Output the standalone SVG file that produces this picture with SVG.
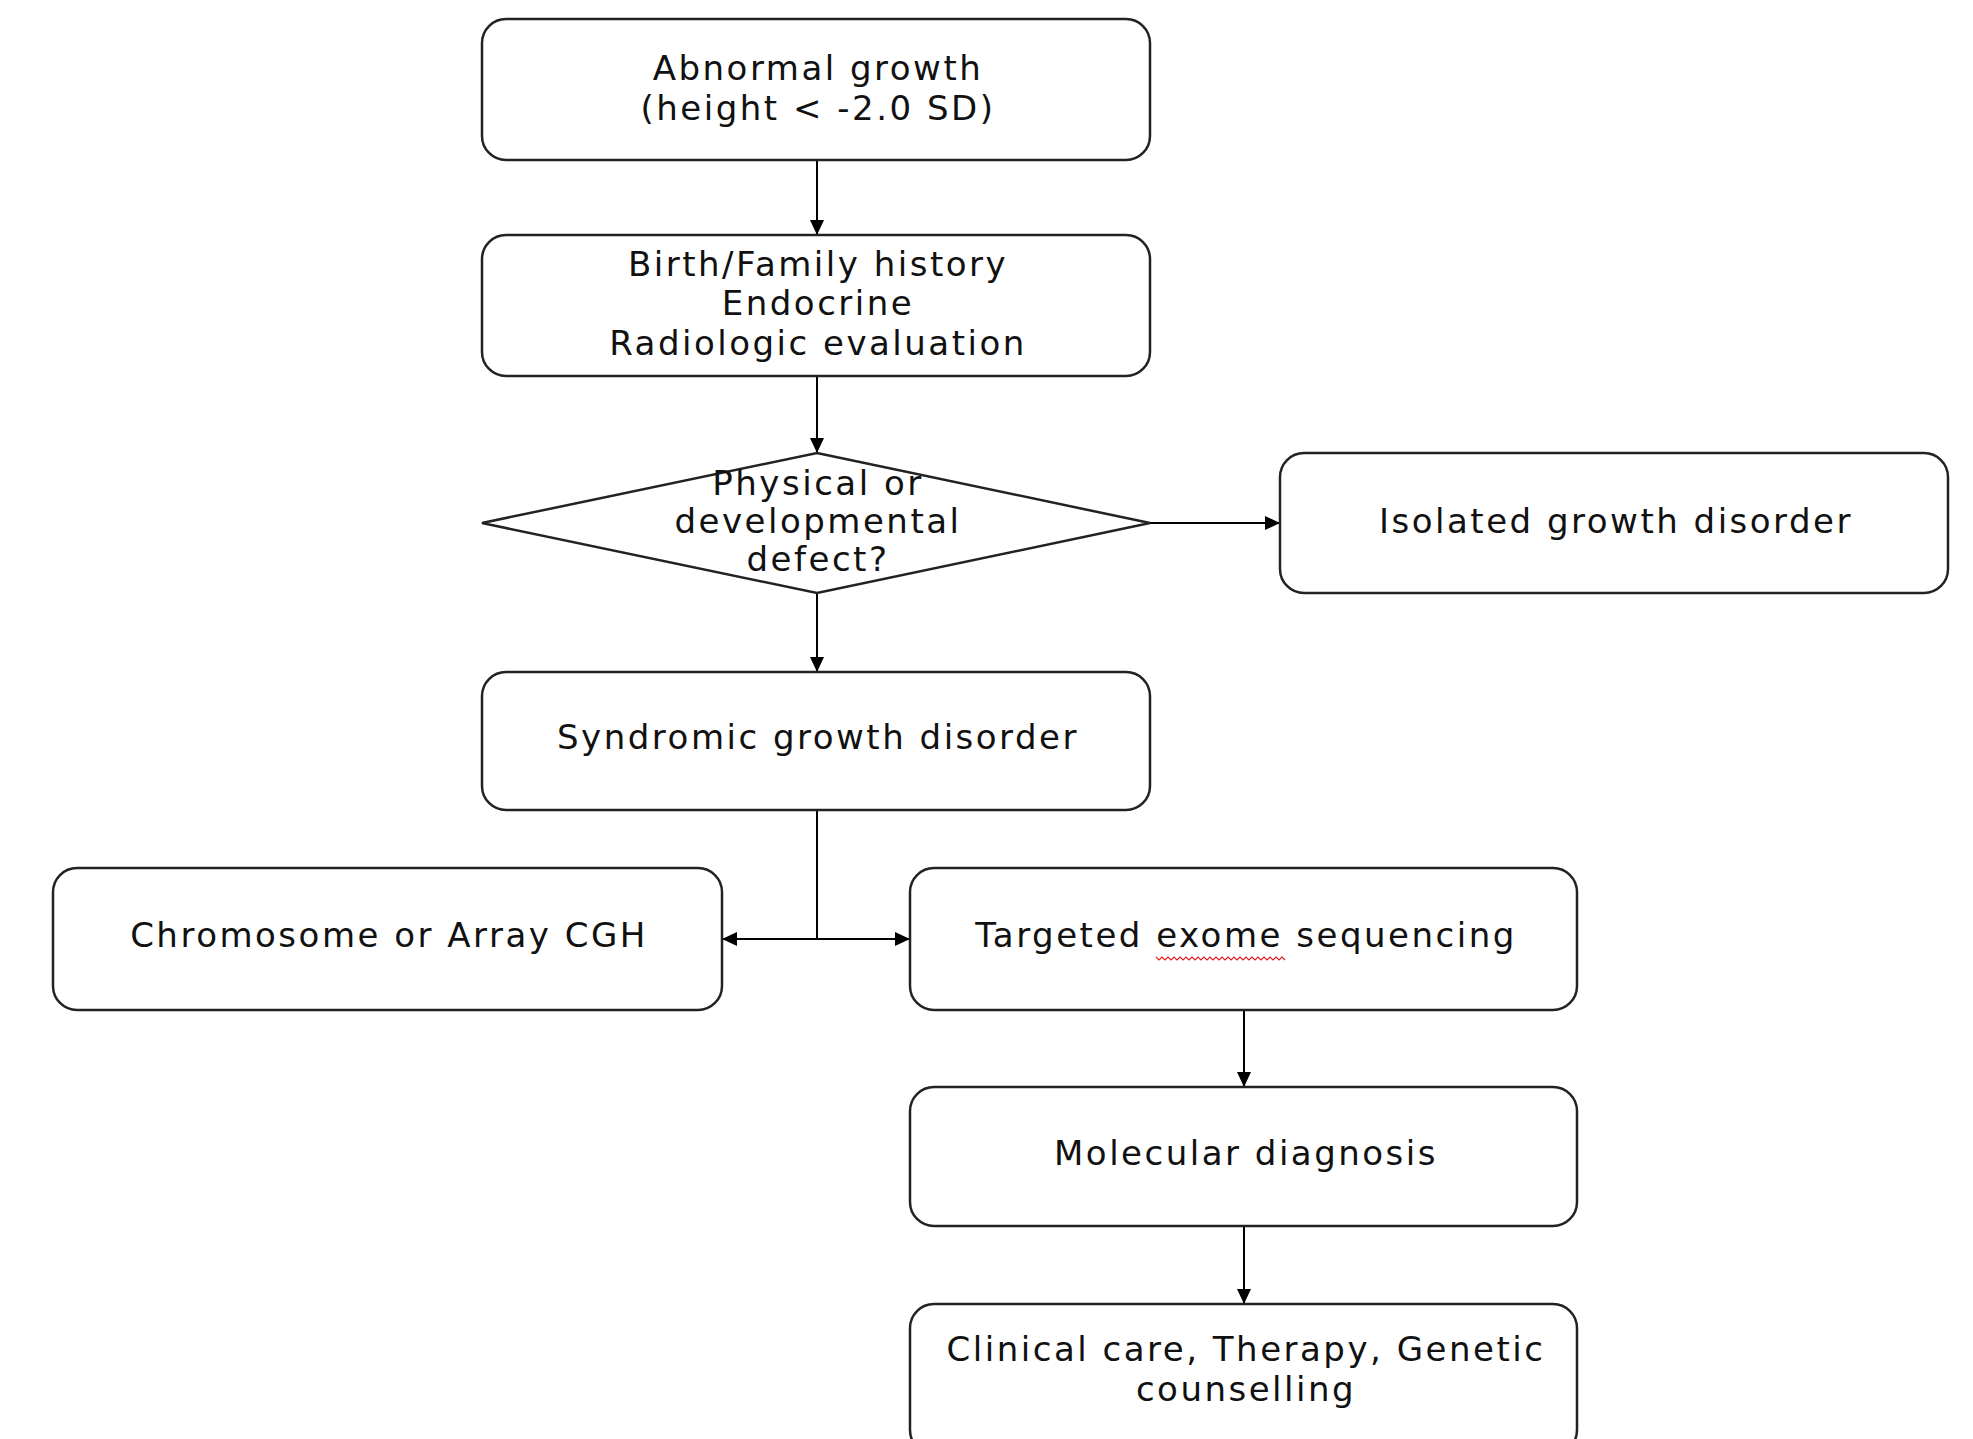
<svg xmlns="http://www.w3.org/2000/svg" width="1973" height="1439" viewBox="0 0 1973 1439">
<style>
.box{fill:#fff;stroke:#222;stroke-width:2.5}
.t{font-family:"DejaVu Sans","Noto Sans",sans-serif;font-size:34px;letter-spacing:2.5px;fill:#111;text-anchor:middle}
.c{fill:none;stroke:#000;stroke-width:2}
</style>
<defs>
<marker id="ah" markerWidth="15" markerHeight="14" refX="15" refY="7" orient="auto" markerUnits="userSpaceOnUse">
<path d="M0,0 L15,7 L0,14 Z" fill="#000"/>
</marker>
</defs>
<rect width="1973" height="1439" fill="#fff"/>
<g id="connectors">
<path class="c" d="M817,160 V235" marker-end="url(#ah)"/>
<path class="c" d="M817,376 V453" marker-end="url(#ah)"/>
<path class="c" d="M1150,523 H1280" marker-end="url(#ah)"/>
<path class="c" d="M817,593 V672" marker-end="url(#ah)"/>
<path class="c" d="M817,810 V939"/>
<path class="c" d="M817,939 H722" marker-end="url(#ah)"/>
<path class="c" d="M817,939 H910" marker-end="url(#ah)"/>
<path class="c" d="M1244,1010 V1087" marker-end="url(#ah)"/>
<path class="c" d="M1244,1226 V1304" marker-end="url(#ah)"/>
</g>
<g id="n1">
<rect class="box" x="482" y="19" width="668" height="141" rx="24"/>
<text class="t" x="818" y="80">Abnormal growth</text>
<text class="t" x="818" y="120">(height &lt; -2.0 SD)</text>
</g>
<g id="n2">
<rect class="box" x="482" y="235" width="668" height="141" rx="24"/>
<text class="t" x="818" y="276">Birth/Family history</text>
<text class="t" x="818" y="315">Endocrine</text>
<text class="t" x="818" y="355">Radiologic evaluation</text>
</g>
<g id="n3">
<polygon class="box" points="817,453 1150,523 817,593 482,523"/>
<text class="t" x="818" y="495">Physical or</text>
<text class="t" x="818" y="533">developmental</text>
<text class="t" x="818" y="571">defect?</text>
</g>
<g id="n4">
<rect class="box" x="1280" y="453" width="668" height="140" rx="24"/>
<text class="t" x="1616" y="533">Isolated growth disorder</text>
</g>
<g id="n5">
<rect class="box" x="482" y="672" width="668" height="138" rx="24"/>
<text class="t" x="818" y="749">Syndromic growth disorder</text>
</g>
<g id="n6">
<rect class="box" x="53" y="868" width="669" height="142" rx="24"/>
<text class="t" x="389" y="947">Chromosome or Array CGH</text>
</g>
<g id="n7">
<rect class="box" x="910" y="868" width="667" height="142" rx="24"/>
<text class="t" x="1246" y="947">Targeted exome sequencing</text>
<path d="M1156,957 l3,3 l3,-3 l3,3 l3,-3 l3,3 l3,-3 l3,3 l3,-3 l3,3 l3,-3 l3,3 l3,-3 l3,3 l3,-3 l3,3 l3,-3 l3,3 l3,-3 l3,3 l3,-3 l3,3 l3,-3 l3,3 l3,-3 l3,3 l3,-3 l3,3 l3,-3 l3,3 l3,-3 l3,3 l3,-3 l3,3 l3,-3 l3,3 l3,-3 l3,3 l3,-3 l3,3 l3,-3 l3,3 l3,-3 l3,3" fill="none" stroke="#e02020" stroke-width="1.2"/>
</g>
<g id="n8">
<rect class="box" x="910" y="1087" width="667" height="139" rx="24"/>
<text class="t" x="1246" y="1165">Molecular diagnosis</text>
</g>
<g id="n9">
<rect class="box" x="910" y="1304" width="667" height="150" rx="24"/>
<text class="t" x="1246" y="1361">Clinical care, Therapy, Genetic</text>
<text class="t" x="1246" y="1401">counselling</text>
</g>
</svg>
